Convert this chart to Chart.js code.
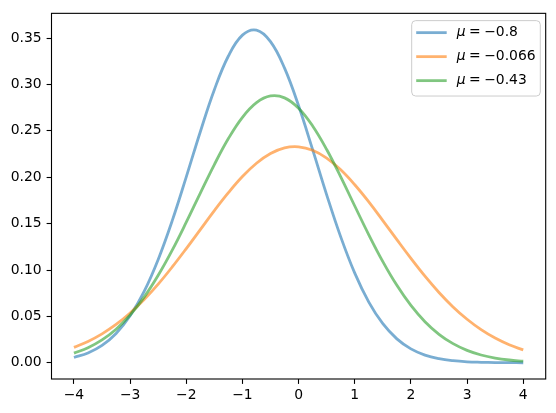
<!DOCTYPE html>
<html lang="en">
<head>
	<meta charset="UTF-8">
	<title>normal curves</title>
	<script src="https://cdn.jsdelivr.net/npm/chart.js@4/dist/chart.umd.min.js"></script>
	<style>
		body { margin:0; background:#fff; }
		#wrap { width:556px; height:413px; }
	</style>
</head>
<body>
	<div id="wrap"><canvas id="chart" width="556" height="413"></canvas></div>

	<script>

		var xValues=[-4,-3.75,-3.5,-3.25,-3,-2.75,-2.5,-2.25,-2,-1.75,-1.5,-1.25,-1,-0.75,-0.5,-0.25,
			0,0.25,0.5,0.75,1,1.25,1.5,1.75,2,2.25,2.5,2.75,3,3.25,3.5,3.75,4];

		var blueValues=[0.0057,0.0106,0.0187,0.0316,0.0506,0.0769,0.1114,0.1532,0.2004,0.2491,0.2944,0.3307,0.3532,0.3586,0.3462,0.3176,
			0.2770,0.2297,0.1810,0.1357,0.0966,0.0654,0.0421,0.0258,0.0150,0.0083,0.0044,0.0022,0.0010,0.0005,0.0002,0.0001,0.0000];

		var orangeValues=[0.0166,0.0230,0.0312,0.0413,0.0537,0.0682,0.0848,0.1033,0.1231,0.1436,0.1641,0.1834,0.2008,0.2151,0.2256,0.2317,
			0.2328,0.2291,0.2206,0.2080,0.1919,0.1734,0.1533,0.1327,0.1125,0.0933,0.0758,0.0602,0.0469,0.0357,0.0266,0.0194,0.0139];

		var greenValues=[0.0104,0.0163,0.0247,0.0362,0.0515,0.0708,0.0943,0.1214,0.1515,0.1829,0.2137,0.2417,0.2646,0.2804,0.2876,0.2856,
			0.2744,0.2553,0.2299,0.2004,0.1690,0.1380,0.1091,0.0835,0.0618,0.0443,0.0307,0.0206,0.0134,0.0084,0.0051,0.0030,0.0017];

		var muLabels=["\u22120.8","\u22120.066","\u22120.43"];
		var xTicks=[-4,-3,-2,-1,0,1,2,3,4];
		var yTicks=[0,0.05,0.10,0.15,0.20,0.25,0.30,0.35];

		var colors=["rgba(31,119,180,0.6)","rgba(255,127,14,0.6)","rgba(44,160,44,0.6)"];
		var FONT="'DejaVu Sans', sans-serif";

		function points(ys){
			return xValues.map(function(x,i){ return {x:x,y:ys[i]}; });
		}

		function minus(v,dec){
			var s=v.toFixed(dec);
			return s.replace("-","\u2212");
		}

		// black frame round the plot and the legend box
		var frame={
			id:"frame",
			afterDraw:function(chart){
				var ctx=chart.ctx, a=chart.chartArea;
				ctx.save();
				ctx.strokeStyle="#000";
				ctx.lineWidth=1.1;
				ctx.strokeRect(a.left,a.top,a.right-a.left,a.bottom-a.top);

				var bx=a.right-134, by=a.top+7.3, bw=128.6, bh=75.4, r=4;
				ctx.beginPath();
				ctx.moveTo(bx+r,by);
				ctx.arcTo(bx+bw,by,bx+bw,by+bh,r);
				ctx.arcTo(bx+bw,by+bh,bx,by+bh,r);
				ctx.arcTo(bx,by+bh,bx,by,r);
				ctx.arcTo(bx,by,bx+bw,by,r);
				ctx.closePath();
				ctx.fillStyle="rgba(255,255,255,0.8)";
				ctx.fill();
				ctx.strokeStyle="#cccccc";
				ctx.lineWidth=1;
				ctx.stroke();

				ctx.textBaseline="middle";
				muLabels.forEach(function(lab,i){
					var y=by+12+i*24;
					ctx.strokeStyle=colors[i];
					ctx.lineWidth=2.8;
					ctx.beginPath();
					ctx.moveTo(bx+4.5,y);
					ctx.lineTo(bx+35,y);
					ctx.stroke();

					var tx=bx+45;
					ctx.fillStyle="#000";
					ctx.font="italic 13.9px "+FONT;
					ctx.fillText("\u03bc",tx,y);
					tx+=ctx.measureText("\u03bc").width+3.5;
					ctx.font="13.9px "+FONT;
					ctx.fillText("=",tx,y);
					tx+=ctx.measureText("=").width+3.5;
					ctx.fillText(lab,tx,y);
				});
				ctx.restore();
			}
		};

		new Chart(document.getElementById("chart"),{
			type:"line",
			data:{
				datasets:[
					{data:points(blueValues),borderColor:colors[0],order:2},
					{data:points(orangeValues),borderColor:colors[1],order:1},
					{data:points(greenValues),borderColor:colors[2],order:0}
				]
			},
			options:{
				responsive:false,
				devicePixelRatio:1,
				animation:false,
				layout:{padding:{left:0,top:10,right:10.3,bottom:0}},
				elements:{
					line:{borderWidth:2.8,tension:0.4,fill:false,borderCapStyle:"butt"},
					point:{radius:0}
				},
				plugins:{legend:{display:false},tooltip:{enabled:false}},
				scales:{
					x:{
						type:"linear",
						min:-4.4,
						max:4.4,
						afterBuildTicks:function(s){ s.ticks=xTicks.map(function(v){ return {value:v}; }); },
						afterFit:function(s){ s.height=34; },
						grid:{drawOnChartArea:false,tickLength:4.9,tickColor:"#000",tickWidth:1.1},
						border:{display:false},
						ticks:{
							color:"#000",
							font:{family:FONT,size:13.9},
							padding:3,
							maxRotation:0,
							callback:function(v){ return minus(v,0); }
						}
					},
					y:{
						min:-0.0175,
						max:0.3767,
						afterBuildTicks:function(s){ s.ticks=yTicks.map(function(v){ return {value:v}; }); },
						afterFit:function(s){ s.width=51.5; },
						grid:{drawOnChartArea:false,tickLength:4.9,tickColor:"#000",tickWidth:1.1},
						border:{display:false},
						ticks:{
							color:"#000",
							font:{family:FONT,size:13.9},
							padding:5,
							callback:function(v){ return v.toFixed(2); }
						}
					}
				}
			},
			plugins:[frame]
		});

	</script>

</body>
</html>
